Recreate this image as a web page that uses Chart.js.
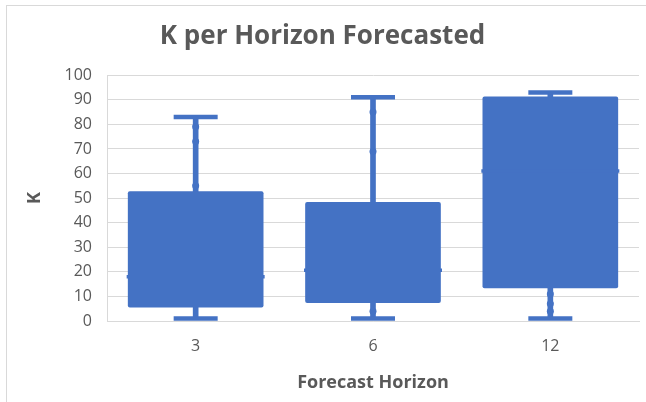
<!DOCTYPE html>
<html>
<head>
<meta charset="utf-8">
<script src="https://cdn.jsdelivr.net/npm/chart.js@4"></script>
<style>
  html, body { margin: 0; padding: 0; background: #fff; }
  #wrap { position: relative; width: 646px; height: 402px; overflow: hidden; }
  #frame { position: absolute; left: 6px; top: 5px; width: 700px; height: 500px;
           border-left: 1px solid #d9d9d9; border-top: 1px solid #d9d9d9; }
  canvas { position: absolute; left: 0; top: 0; }
</style>
</head>
<body>
<div id="wrap">
  <div id="frame"></div>
  <canvas id="chart" width="646" height="402"></canvas>
</div>
<script>
// box plot values
const categories = ["3", "6", "12"];
const mins = [1, 1, 1];
const q1s = [5.5, 7.3, 13.3];
const medians = [18, 20.6, 61];
const q3s = [52.8, 48.4, 91.3];
const maxs = [83, 91, 93];
const innerPoints = [[79, 73, 55], [85, 69, 4], [11, 7, 4]];
const yMin = 0, yMax = 100, yStep = 10;

const blue = "#4472C4";
const grey = "#595959";
const font = "'Open Sans', sans-serif";

const points = [];
innerPoints.forEach((list, i) => {
  list.forEach(v => points.push({ x: categories[i], y: v }));
});

new Chart(document.getElementById("chart"), {
  type: "bar",
  data: {
    labels: categories,
    datasets: [
      {
        // boxes (q1..q3)
        type: "bar",
        data: categories.map((c, i) => [q1s[i], q3s[i]]),
        backgroundColor: blue,
        borderWidth: 0,
        borderRadius: 2,
        borderSkipped: false,
        grouped: false,
        barPercentage: 0.765,
        categoryPercentage: 1,
        order: 2,
      },
      {
        // whiskers
        type: "bar",
        data: categories.map((c, i) => [mins[i], maxs[i]]),
        backgroundColor: blue,
        borderWidth: 0,
        grouped: false,
        barThickness: 5,
        order: 3,
      },
      {
        // whisker caps
        type: "line",
        data: categories.flatMap((c, i) => [{ x: c, y: mins[i] }, { x: c, y: maxs[i] }]),
        showLine: false,
        pointStyle: "line",
        pointRadius: 22,
        borderColor: blue,
        borderWidth: 4.5,
        order: 1,
      },
      {
        // median
        type: "line",
        data: categories.map((c, i) => ({ x: c, y: medians[i] })),
        showLine: false,
        pointStyle: "line",
        pointRadius: 69,
        borderColor: blue,
        borderWidth: 3.5,
        order: 1,
      },
      {
        // inner points
        type: "line",
        data: points,
        showLine: false,
        pointStyle: "circle",
        pointRadius: 3.5,
        backgroundColor: blue,
        borderColor: blue,
        borderWidth: 0,
        order: 0,
      },
    ],
  },
  options: {
    responsive: false,
    animation: false,
    layout: { autoPadding: false, padding: { left: 6, right: 7, top: 10, bottom: 6 } },
    plugins: {
      legend: { display: false },
      tooltip: { enabled: false },
      title: {
        display: true,
        text: "K per Horizon Forecasted",
        color: grey,
        font: { family: font, size: 26, weight: "bold" },
        padding: { top: 11, bottom: 23 },
      },
    },
    scales: {
      x: {
        afterFit: s => { s.height = 75; },
        grid: { display: false, drawTicks: false },
        border: { color: "#d9d9d9" },
        ticks: { color: grey, font: { family: font, size: 16 }, padding: 16 },
        title: {
          display: true,
          text: "Forecast Horizon",
          color: grey,
          font: { family: font, size: 18, weight: "bold" },
          padding: { top: 15, bottom: 2 },
        },
      },
      y: {
        min: yMin,
        max: yMax,
        afterFit: s => { s.width = 101; },
        grid: { color: "#d9d9d9", drawTicks: false },
        border: { color: "#d9d9d9" },
        ticks: { stepSize: yStep, color: grey, font: { family: font, size: 16 }, padding: 15 },
        title: {
          display: true,
          text: "K",
          color: grey,
          font: { family: font, size: 18, weight: "bold" },
          padding: { top: 18, bottom: 0 },
        },
      },
    },
  },
});
</script>
</body>
</html>
